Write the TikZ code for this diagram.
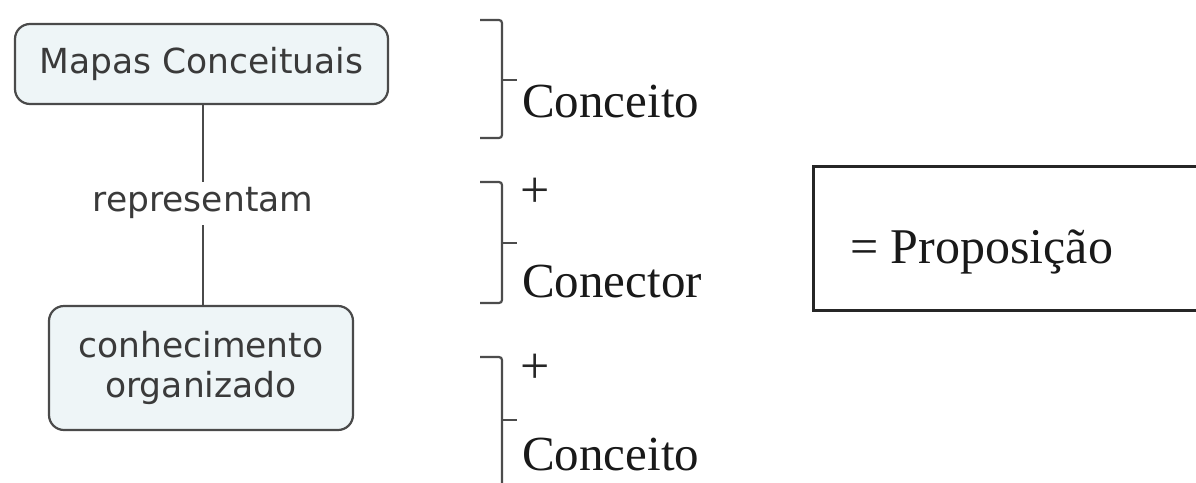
\documentclass[tikz,border=0pt]{standalone}
\usepackage{fontspec}
\newfontfamily\mapfont{DejaVu Sans}
\newfontfamily\serif{Liberation Serif}
\definecolor{boxfill}{HTML}{EEF5F7}
\definecolor{boxline}{HTML}{4A4A4A}
\definecolor{maptext}{HTML}{3A3A3A}
\begin{document}
\begin{tikzpicture}[x=1pt,y=-1pt,
  concept/.style={draw=boxline,line width=2.2pt,fill=boxfill,rounded corners=15pt,
    font=\mapfont\fontsize{34.5}{40}\selectfont,text=maptext,align=center,inner sep=0pt},
  linkword/.style={font=\mapfont\fontsize{34.5}{40}\selectfont,text=maptext,inner sep=0pt,
    text height=26pt,text depth=10pt,minimum height=43pt},
  link/.style={draw=boxline,line width=2pt},
  brace/.style={draw=black!70,line width=2.2pt,rounded corners=3pt},
  big/.style={font=\serif\fontsize{49}{55}\selectfont,inner sep=0pt,anchor=base west,text=black!90},
  plus/.style={font=\serif\fontsize{52}{54}\selectfont,inner sep=0pt,text=black!85}]
\useasboundingbox (0,0) rectangle (1196,482);
\clip (0,0) rectangle (1196,482);
\fill[white] (0,0) rectangle (1196,482);

% concept map
\node[concept,minimum width=373pt,minimum height=80pt] (m) at (201.5,64) {Mapas Conceituais};
\node[linkword] (lbl) at (203,203.5) {representam};
\node[concept,minimum width=304pt,minimum height=124pt] (c) at (201,368) {conhecimento\\organizado};
\draw[link] (m.south -| lbl.north) -- (lbl.north);
\draw[link] (lbl.south) -- (c.north -| lbl.south);

% brackets
\draw[brace] (480,20) -- (502,20) -- (502,138) -- (480,138);
\draw[brace,rounded corners=0pt] (502,80) -- (517,80);
\node[big] (t1) at (522,117) {Conceito};

\draw[brace] (480,182) -- (502,182) -- (502,303) -- (480,303);
\draw[brace,rounded corners=0pt] (502,243) -- (517,243);
\node[plus] (p1) at (535,193) {+};
\node[big] (t2) at (522,297) {Conector};

\draw[brace] (480,357) -- (502,357) -- (502,490);
\draw[brace,rounded corners=0pt] (502,420) -- (517,420);
\node[plus] (p2) at (535,369) {+};
\node[big] (t3) at (522,470) {Conceito};

% proposition box
\node[draw=black!85,line width=3pt,minimum width=420pt,minimum height=144pt,anchor=north west,inner sep=0pt] (propbox) at (812,165) {};
\node[big,font=\serif\fontsize{50}{55}\selectfont] (prop) at (850,263) {= Proposição};
\end{tikzpicture}
\end{document}
